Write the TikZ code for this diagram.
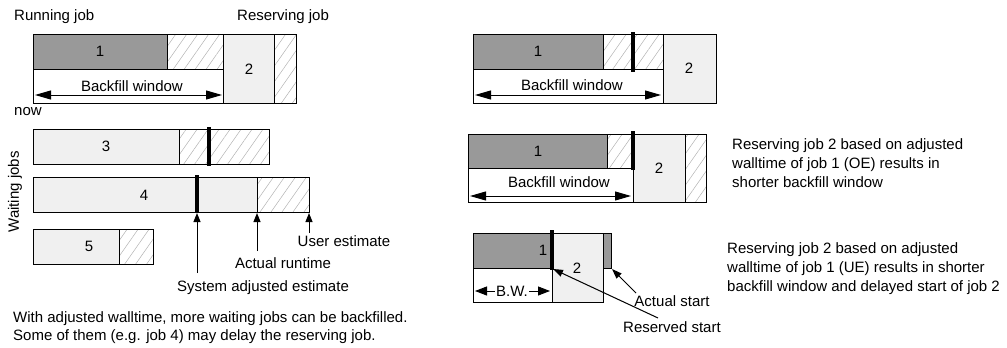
\documentclass[tikz,border=0pt]{standalone}
\usepackage{fontspec}
\setmainfont{Liberation Sans}
\usetikzlibrary{arrows.meta,patterns.meta}
\tikzset{
  box/.style={draw=black,line width=1pt},
  dark/.style={box,fill=black!40},
  light/.style={box,fill=black!6},
  white/.style={box,fill=white},
  hatch/.style={box,pattern={Lines[angle=55,distance=9pt,line width=0.5pt]},pattern color=black!30},
  bar/.style={line width=3.2pt,black},
  lbl/.style={font=\fontsize{15}{18}\selectfont,inner sep=0pt},
  bw/.style={line width=1pt,{Triangle[length=16pt,width=9pt]}-{Triangle[length=16pt,width=9pt]}},
  upar/.style={line width=1pt,-{Triangle[length=9pt,width=7pt]}},
  ptr/.style={line width=1pt,-{Triangle[length=10pt,width=7pt]}},
  para/.style={lbl,align=left,anchor=north west,font=\fontsize{15}{19}\selectfont}
}
\begin{document}
\begin{tikzpicture}[x=1pt,y=-1pt]
\useasboundingbox (0,0) rectangle (1007,348);
% ---------- top left ----------
\draw[dark] (33,34) rectangle (167,69);
\draw[hatch] (167,34) rectangle (223,69);
\draw[white] (33,69) rectangle (223,103);
\draw[light] (223,34) rectangle (274,103);
\draw[hatch] (274,34) rectangle (296,103);
\node[lbl] (j1a) at (100,51) {1};
\node[lbl] (j2a) at (249,69) {2};
\coordinate (bwaL) at (35,95);
\coordinate (bwaR) at (222,95);
\draw[bw] (bwaL) -- (bwaR);
\node[lbl] (bwa) at (132,86) {Backfill window};
\node[lbl,anchor=west] (run) at (14,17) {Running job};
\node[lbl,anchor=west] (res) at (237,17) {Reserving job};
\node[lbl,anchor=west] (now) at (14,112) {now};
\node[lbl,rotate=90] (wait) at (15,192) {Waiting jobs};
% job 3
\draw[light] (33,129) rectangle (179,164);
\draw[hatch] (179,129) rectangle (269,164);
\draw[bar] (209,127) -- (209,166);
\node[lbl] (j3) at (106,146) {3};
% job 4
\draw[light] (33,177) rectangle (257,212);
\draw[hatch] (257,177) rectangle (309,212);
\draw[bar] (197,175) -- (197,213);
\node[lbl] (j4) at (144,195) {4};
\coordinate (sysT) at (197,213);
\coordinate (actT) at (257,213);
\coordinate (usrT) at (309,213);
% job 5
\draw[light] (33,229) rectangle (119,264);
\draw[hatch] (119,229) rectangle (153,264);
\node[lbl] (j5) at (89,246) {5};
% labels and arrows
\node[lbl] (usr) at (344,241) {User estimate};
\node[lbl] (act) at (283,263) {Actual runtime};
\node[lbl] (sys) at (263,288) {System adjusted estimate};
\coordinate (sysB) at (197,273);
\coordinate (actB) at (257,251);
\coordinate (usrB) at (309,233);
\draw[upar] (sysB) -- (sysT);
\draw[upar] (actB) -- (actT);
\draw[upar] (usrB) -- (usrT);
\node[lbl,anchor=west] (note1) at (13,319) {With adjusted walltime, more waiting jobs can be backfilled.};
\node[lbl,anchor=west] (note2) at (13,337) {Some of them (e.g. job 4) may delay the reserving job.};
% ---------- right top ----------
\draw[dark] (473,34) rectangle (603,69);
\draw[hatch] (603,34) rectangle (663,69);
\draw[white] (473,69) rectangle (663,103);
\draw[light] (663,34) rectangle (716,103);
\draw[bar] (633,32) -- (633,72);
\node[lbl] (r1a) at (538,51) {1};
\node[lbl] (r2a) at (689,68) {2};
\coordinate (bwbL) at (475,95);
\coordinate (bwbR) at (661,95);
\draw[bw] (bwbL) -- (bwbR);
\node[lbl] (bwb) at (572,85) {Backfill window};
% ---------- right middle ----------
\draw[dark] (468,134) rectangle (607,168);
\draw[hatch] (607,134) rectangle (633,168);
\draw[white] (468,168) rectangle (633,202);
\draw[light] (633,134) rectangle (685,202);
\draw[hatch] (685,134) rectangle (706,202);
\draw[bar] (633,131) -- (633,170);
\node[lbl] (r1b) at (538,151) {1};
\node[lbl] (r2b) at (659,168) {2};
\coordinate (bwcL) at (470,196);
\coordinate (bwcR) at (631,196);
\draw[bw] (bwcL) -- (bwcR);
\node[lbl] (bwc) at (559,182) {Backfill window};
\node[para] (txt1) at (732,138) {Reserving job 2 based on adjusted\\walltime of job 1 (OE) results in\\shorter backfill window};
% ---------- right bottom ----------
\draw[dark] (473,233) rectangle (552,268);
\draw[white] (473,268) rectangle (552,302);
\draw[light] (552,233) rectangle (603,302);
\draw[dark] (603,233) rectangle (611,268);
\draw[bar] (552,230) -- (552,270);
\node[lbl] (r1c) at (543,250) {1};
\node[lbl] (r2c) at (577,268) {2};
\coordinate (bwdL) at (475,291);
\coordinate (bwdR) at (550,291);
\draw[line width=1pt,{Triangle[length=12pt,width=9pt]}-{Triangle[length=12pt,width=9pt]}] (bwdL) -- (bwdR);
\node[lbl,fill=white,inner xsep=1pt] (bwd) at (512,291) {B.W.};
\node[lbl] (ast) at (672,301) {Actual start};
\node[lbl] (rst) at (672,327) {Reserved start};
\coordinate (astF) at (636,293);
\coordinate (astT) at (612,269);
\coordinate (rstF) at (658,318);
\coordinate (rstT) at (553,269);
\draw[ptr] (astF) -- (astT);
\draw[ptr] (rstF) -- (rstT);
\node[para] (txt2) at (727,242) {Reserving job 2 based on adjusted\\walltime of job 1 (UE) results in shorter\\backfill window and delayed start of job 2};
\end{tikzpicture}
\end{document}
